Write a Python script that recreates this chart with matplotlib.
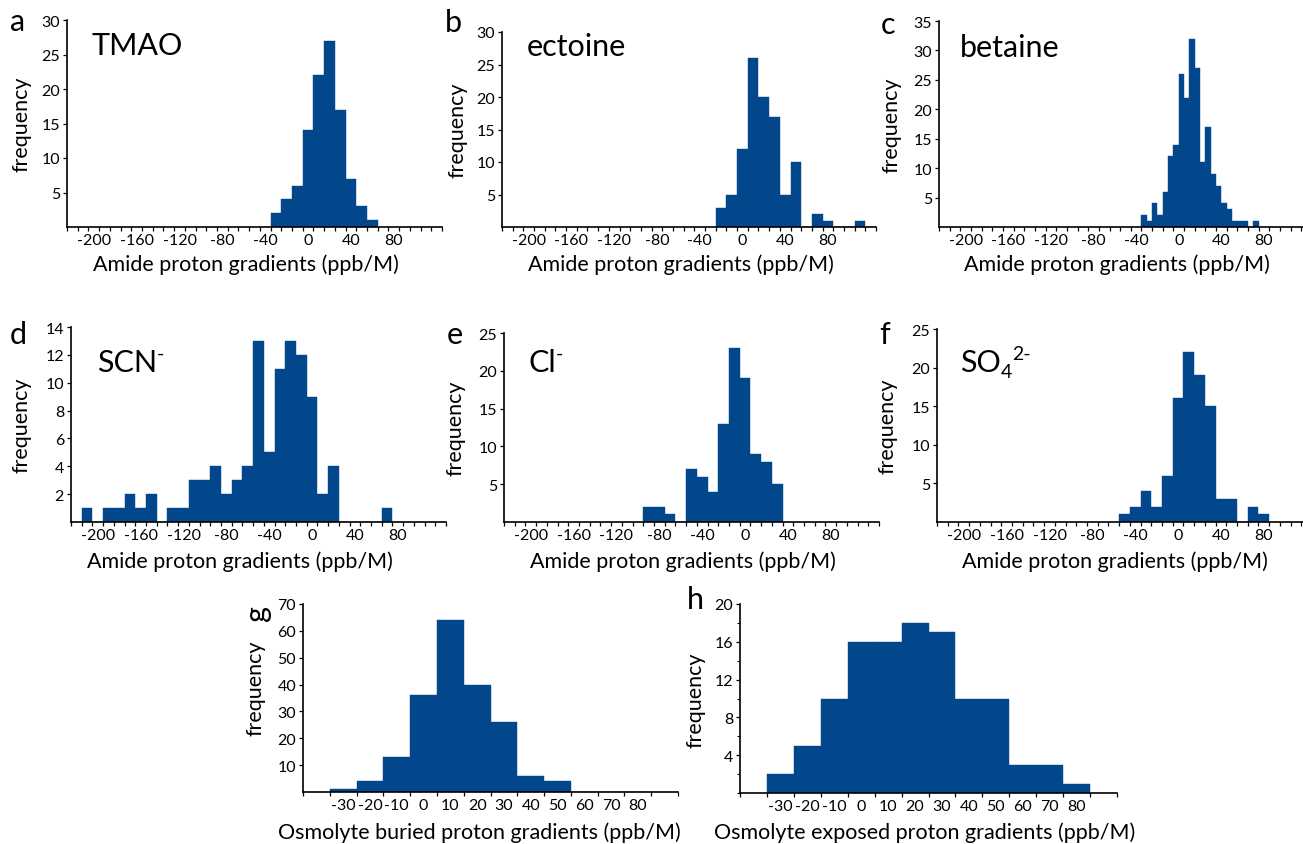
import numpy as np
import matplotlib
matplotlib.use("Agg")
import matplotlib.pyplot as plt
from matplotlib.ticker import FixedLocator, MultipleLocator

plt.rcParams['font.family'] = ['Lato', 'DejaVu Sans']
plt.rcParams['axes.unicode_minus'] = False

W, H = 1303, 845
BLUE = '#02468b'

# bin centres (ppb/M) and counts
tmao_x = np.arange(-30, 61, 10)
tmao_n = [2, 4, 6, 14, 22, 27, 17, 7, 3, 1]
ectoine_x = np.arange(-20, 111, 10)
ectoine_n = [3, 5, 12, 26, 20, 17, 5, 10, 0, 2, 1, 0, 0, 1]
betaine_x = np.arange(-32.5, 73, 5)
betaine_n = [2, 1, 4, 2, 6, 12, 14, 26, 22, 32, 27, 11, 17, 9, 7, 4, 3, 1, 1, 1, 0, 1]
scn_x = np.arange(-210, 71, 10)
scn_n = [1, 0, 1, 1, 2, 1, 2, 0, 1, 1, 3, 3, 4, 2, 3, 4, 13, 5, 11, 13, 12, 9, 2, 4, 0, 0, 0, 0, 1]
cl_x = np.arange(-90, 31, 10)
cl_n = [2, 2, 1, 0, 7, 6, 4, 13, 23, 19, 9, 8, 5]
so4_x = np.arange(-50, 81, 10)
so4_n = [1, 2, 4, 2, 6, 16, 22, 19, 15, 3, 3, 0, 2, 1]
osm_x = np.arange(-30, 81, 10)
buried_n = [1, 4, 13, 36, 64, 40, 26, 6, 4, 0, 0, 0]
exposed_n = [2, 5, 10, 16, 16, 18, 17, 10, 10, 3, 3, 1]

amide_labels = [-200, -160, -120, -80, -40, 0, 40, 80]
osm_labels = [-30, -20, -10, 0, 10, 20, 30, 40, 50, 60, 70, 80]

TICK = 11.5
LAB = 15.5
BIG = 22


def box(x0, x1, y0, y1):
    return [x0 / W, 1 - y1 / H, (x1 - x0) / W, (y1 - y0) / H]


def ftext(x, y, s, **kw):
    return fig.text(x / W, 1 - y / H, s, **kw)


def rich(x, y, parts):
    # pieces of text drawn left to right: (string, size, vertical shift in px)
    r = fig.canvas.get_renderer()
    for s, size, dy in parts:
        t = ftext(x, y - dy, s, fontsize=size, ha='left', va='baseline')
        x += t.get_window_extent(renderer=r).width


def panel(rect, x, n, width, ymax, ystep, xlim, labels, edges_step):
    ax = fig.add_axes(box(*rect))
    ax.bar(x, n, width=width, color=BLUE, edgecolor=BLUE, linewidth=0.3)
    ax.set_xlim(*xlim)
    ax.set_ylim(0, ymax)
    for s in ['top', 'right']:
        ax.spines[s].set_visible(False)
    for s in ['left', 'bottom']:
        ax.spines[s].set_linewidth(1.2)
    ax.xaxis.set_major_locator(FixedLocator(labels))
    ax.set_xticklabels([str(v) for v in labels])
    ax.xaxis.set_minor_locator(FixedLocator(np.arange(xlim[0], xlim[1] + 0.1, edges_step)))
    ax.set_yticks(np.arange(ystep, ymax + 0.1, ystep))
    ax.tick_params(axis='x', which='major', length=0, pad=4, labelsize=TICK)
    ax.tick_params(axis='x', which='minor', length=3, width=0.9, direction='out')
    ax.tick_params(axis='y', which='major', length=3, width=0.9, pad=2, labelsize=TICK)
    return ax


fig = plt.figure(figsize=(W / 100, H / 100), dpi=100)

top = [
    ((67, 442, 21, 228), tmao_x, tmao_n, 10, 30, 5, 'a', [('TMAO', BIG, 0)], (18, 22), (92, 55), 22, 246),
    ((502, 876, 33, 228), ectoine_x, ectoine_n, 10, 30, 5, 'b', [('ectoine', BIG, 0)], (453, 23), (527, 56), 458, 681),
    ((939, 1312, 22, 228), betaine_x, betaine_n, 5, 35, 5, 'c', [('betaine', BIG, 0)], (888, 25), (960, 57), 892, 1117),
    ((71, 446, 328, 523), scn_x, scn_n, 10, 14, 2, 'd', [('SCN', BIG, 0), ('-', 14, 12)], (18, 335), (97, 372), 22, 240),
    ((504, 879, 334, 523), cl_x, cl_n, 10, 25, 5, 'e', [('Cl', BIG, 0), ('-', 14, 12)], (455, 335), (528, 372), 455, 683),
    ((937, 1312, 330, 523), so4_x, so4_n, 10, 25, 5, 'f',
     [('SO', BIG, 0), ('4', 14, -6), ('2-', 14, 12)], (885, 335), (960, 372), 888, 1115),
]

for rect, x, n, w, ymax, ystep, letter, title, lpos, tpos, ylx, xlx in top:
    panel(rect, x, n, w, ymax, ystep, (-225, 125), amide_labels, 10)
    ftext(*lpos, letter, fontsize=BIG, ha='center', va='center')
    rich(tpos[0], tpos[1], title)
    ftext(ylx, (rect[2] + rect[3]) / 2, 'frequency', fontsize=LAB, rotation=90,
          ha='center', va='center')
    xl_y = 265 if rect[3] < 300 else 562
    ftext(xlx, xl_y, 'Amide proton gradients (ppb/M)', fontsize=LAB, ha='center', va='center')

# bottom row
axg = panel((303, 678, 605, 793), osm_x, buried_n, 10, 70, 10, (-45, 95), osm_labels, 10)
ftext(255, 688, 'frequency', fontsize=LAB, rotation=90, ha='center', va='center')
ftext(257, 613, 'g', fontsize=BIG, rotation=90, ha='center', va='center')
ftext(479, 833, 'Osmolyte buried proton gradients (ppb/M)', fontsize=LAB, ha='center', va='center')

axh = panel((740, 1117, 605, 794), osm_x, exposed_n, 10, 20, 4, (-45, 95), osm_labels, 10)
axh.yaxis.set_minor_locator(MultipleLocator(2))
axh.tick_params(axis='y', which='minor', length=2, width=0.8)
ftext(695, 700, 'frequency', fontsize=LAB, rotation=90, ha='center', va='center')
ftext(695, 600, 'h', fontsize=BIG, ha='center', va='center')
ftext(925, 833, 'Osmolyte exposed proton gradients (ppb/M)', fontsize=LAB, ha='center', va='center')

fig.savefig('out.png', dpi=100)
